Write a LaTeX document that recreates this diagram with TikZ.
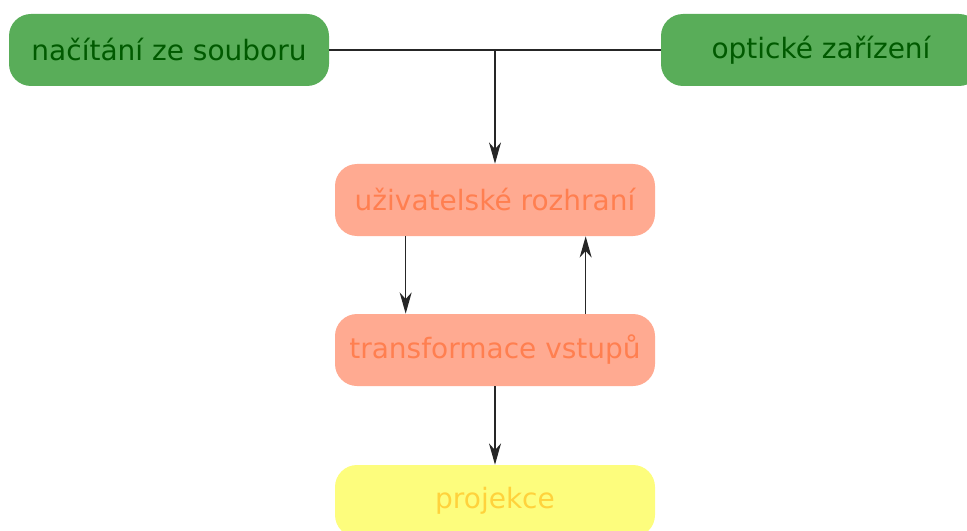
\documentclass[tikz,border=0pt]{standalone}
\usepackage{fontspec}
\setmainfont{DejaVu Sans}
\usepackage{tikz}
\usetikzlibrary{positioning,
                arrows.meta}                % arrow tips

\definecolor{zelena}{RGB}{89,173,89}
\definecolor{zelenatext}{RGB}{0,90,0}
\definecolor{losos}{RGB}{255,170,145}
\definecolor{lostext}{RGB}{255,127,80}
\definecolor{zluta}{RGB}{253,253,125}
\definecolor{zlutatext}{RGB}{255,210,60}

\tikzset{
  blok/.style={rounded corners=16.5pt, minimum width=240pt, minimum height=54pt,
               inner sep=0pt, font=\fontsize{21}{25}\selectfont},
  vstup/.style={blok, fill=zelena, text=zelenatext},
  jadro/.style={blok, fill=losos, text=lostext},
  vystup/.style={blok, fill=zluta, text=zlutatext},
  spoj/.style={draw=black!85, line width=1pt}
}

\begin{document}
\begin{tikzpicture}[x=0.75pt, y=-0.75pt,
                    >={Stealth[length=16pt, width=9pt, inset=5pt]}]
      \clip (0,0) rectangle (967,531);

      \node[vstup]  (soubor)   at (169,50)  {načítání ze souboru};
      \node[vstup]  (opticke)  at (821,50)  {optické zařízení};
      \node[jadro]  (rozhrani) at (495,200) {uživatelské rozhraní};
      \node[jadro]  (transf)   at (495,350) {transformace vstupů};
      \node[vystup] (projekce) at (495,501) {projekce};

      \coordinate (spoj) at (rozhrani.north |- soubor.east);

      \draw[spoj] (soubor.east) -- (opticke.west);
      \draw[spoj,->] (spoj) -- (rozhrani.north);
      \draw[spoj,->] ([xshift=-67pt]rozhrani.south) -- ([xshift=-67pt]transf.north);
      \draw[spoj,->] ([xshift=68pt]transf.north) -- ([xshift=68pt]rozhrani.south);
      \draw[spoj,->] (transf.south) -- (projekce.north);
    \end{tikzpicture}
\end{document}
